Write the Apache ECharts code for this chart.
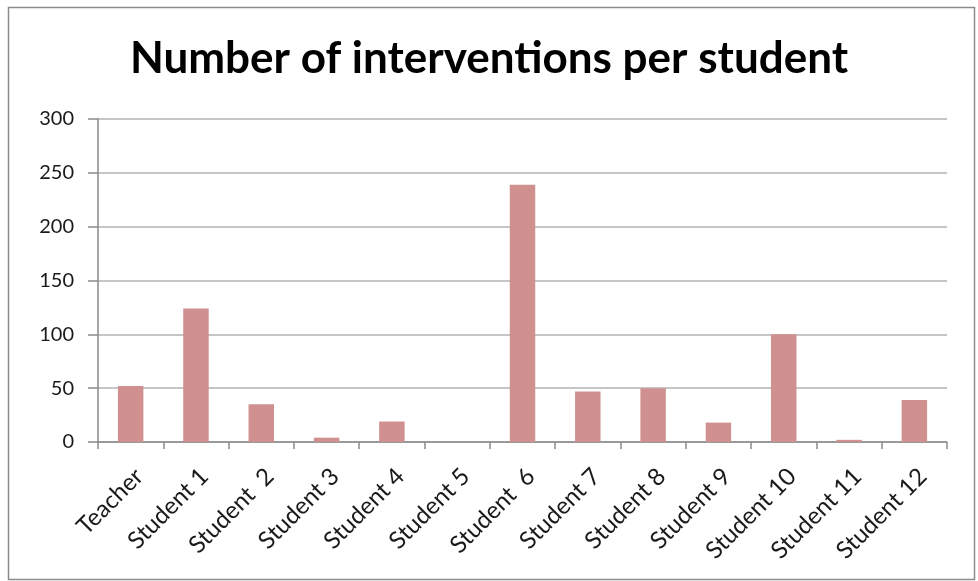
<!DOCTYPE html>
<html>
<head>
<meta charset="utf-8">
<script src="https://cdn.jsdelivr.net/npm/echarts@6/dist/echarts.min.js"></script>
<style>
html,body{margin:0;padding:0;background:#fff;}
#chart{width:978px;height:581px;}
</style>
</head>
<body>
<div id="chart"></div>
<script>
const titleText = 'Number of interventions per student';
const categories = ['Teacher','Student 1','Student  2','Student 3','Student 4','Student 5','Student  6','Student 7','Student 8','Student 9','Student 10','Student 11','Student 12'];
const interventions = [52, 124, 35, 4, 19, 0, 239, 47, 50, 18, 100, 2, 39];
const yTicks = [0, 50, 100, 150, 200, 250, 300];

const chart = echarts.init(document.getElementById('chart'));
chart.setOption({
  animation: false,
  backgroundColor: '#ffffff',
  graphic: [{
    type: 'rect',
    shape: {x: 8.5, y: 7.5, width: 966, height: 572},
    style: {fill: 'none', stroke: '#8c8c8c', lineWidth: 1.5},
    silent: true
  }],
  title: {
    text: titleText,
    left: 'center',
    top: 32,
    textStyle: {fontFamily: 'Lato', fontWeight: 'bold', fontSize: 44, color: '#000'}
  },
  grid: {left: 98, right: 31, top: 119, bottom: 139, containLabel: false},
  xAxis: {
    type: 'category',
    data: categories,
    axisLine: {lineStyle: {color: '#8a8a8a', width: 1.5}},
    axisTick: {show: true, alignWithLabel: false, length: 7, lineStyle: {color: '#8a8a8a', width: 1.5}},
    axisLabel: {rotate: 45, interval: 0, fontFamily: 'Lato', fontSize: 24, color: '#1a1a1a', margin: 22, verticalAlign: 'top'}
  },
  yAxis: {
    type: 'value',
    min: yTicks[0],
    max: yTicks[yTicks.length - 1],
    interval: 50,
    axisLine: {show: true, lineStyle: {color: '#8a8a8a', width: 1.5}},
    axisTick: {show: true, length: 10, lineStyle: {color: '#8a8a8a', width: 1.5}},
    splitLine: {lineStyle: {color: '#b3b3b3', width: 1.5}},
    axisLabel: {fontFamily: 'Lato', fontSize: 20, color: '#1a1a1a', margin: 24}
  },
  series: [{
    type: 'bar',
    data: interventions,
    barWidth: '39%',
    itemStyle: {color: '#d09090'}
  }]
});
</script>
</body>
</html>
